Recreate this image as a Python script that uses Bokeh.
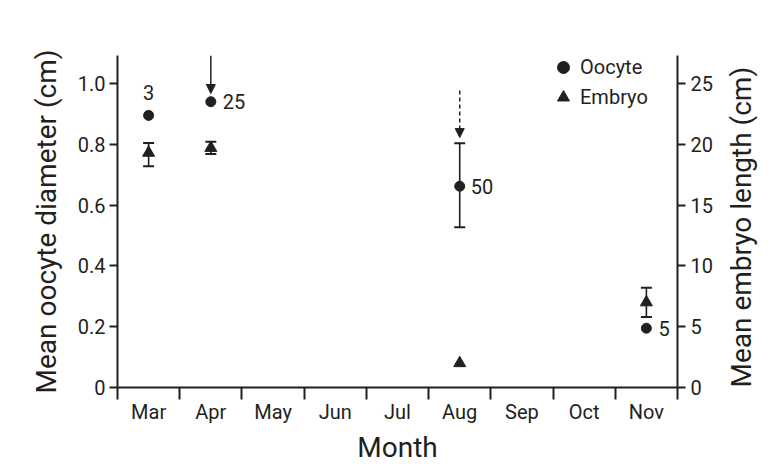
import math
from bokeh.plotting import figure
from bokeh.models import (Range1d, LinearAxis, FixedTicker, Whisker, TeeHead, Arrow,
                          NormalHead, Legend, LegendItem, ColumnDataSource)
from bokeh.core.properties import value
from bokeh.embed import file_html
from bokeh.resources import INLINE

FONT = "Roboto"

months = ["Mar", "Apr", "May", "Jun", "Jul", "Aug", "Sep", "Oct", "Nov"]

oocyte_months = ["Mar", "Apr", "Aug", "Nov"]
oocyte_mean = [0.895, 0.94, 0.662, 0.195]
oocyte_lo = [None, None, 0.527, None]
oocyte_hi = [None, None, 0.803, None]
sample_n = ["3", "25", "50", "5"]

embryo_months = ["Mar", "Apr", "Aug", "Nov"]
embryo_mean = [19.3, 19.7, 2.0, 7.0]
embryo_lo = [18.2, 19.2, None, 5.8]
embryo_hi = [20.1, 20.2, None, 8.2]

left_ticks = [0, 0.2, 0.4, 0.6, 0.8, 1.0]
left_tick_labels = ["0", "0.2", "0.4", "0.6", "0.8", "1.0"]
right_ticks = [0, 5, 10, 15, 20, 25]

arrow_months = ["Apr", "Aug"]
arrow_start = [1.092, 0.977]
arrow_end = [0.967, 0.822]
arrow_dash = ["solid", "4 3"]

x_title = "Month"
left_title = "Mean oocyte diameter (cm)"
right_title = "Mean embryo length (cm)"

def xpos(m):
    return months.index(m) + 0.5

INK = "#231f20"
Y_TOP = 1.092

p = figure(width=783, height=471, output_backend="svg", toolbar_location=None,
           x_range=Range1d(0, len(months)), y_range=Range1d(0, Y_TOP),
           min_border_left=117, min_border_right=106, min_border_top=55, min_border_bottom=84,
           outline_line_color=None)
p.extra_y_ranges = {"right": Range1d(0, Y_TOP * 25)}
p.xgrid.visible = False
p.ygrid.visible = False

# x axis
xa = p.xaxis[0]
xa.ticker = FixedTicker(ticks=[i + 0.5 for i in range(len(months))],
                        minor_ticks=list(range(len(months) + 1)))
xa.major_label_overrides = {i + 0.5: m for i, m in enumerate(months)}
xa.major_tick_out = 0
xa.major_tick_in = 0
xa.minor_tick_out = 12
xa.minor_tick_in = 0
xa.minor_tick_line_width = 2
xa.minor_tick_line_color = INK
xa.axis_label = x_title

# left axis
ya = p.yaxis[0]
ya.ticker = FixedTicker(ticks=left_ticks)
ya.major_label_overrides = {t: s for t, s in zip(left_ticks, left_tick_labels)}
ya.axis_label = left_title
ya.major_tick_out = 8
ya.major_tick_in = 0
ya.minor_tick_out = 0
ya.minor_tick_in = 0

# right axis (title reads bottom-to-top, like the left one)
ra = LinearAxis(y_range_name="right", ticker=FixedTicker(ticks=right_ticks),
                axis_label=right_title)
ra.major_tick_out = 8
ra.major_tick_in = 0
ra.minor_tick_out = 0
ra.minor_tick_in = 0
ra.axis_label_orientation = math.pi / 2
ra.axis_label_align = "start"
p.add_layout(ra, "right")

for ax in (xa, ya, ra):
    ax.axis_line_width = 2
    ax.axis_line_color = INK
    ax.major_tick_line_width = 2
    ax.major_tick_line_color = INK
    ax.major_label_text_font = FONT
    ax.major_label_text_font_size = "20px"
    ax.major_label_text_color = INK
    ax.axis_label_text_font = FONT
    ax.axis_label_text_font_size = "28px"
    ax.axis_label_text_font_style = "normal"
    ax.axis_label_text_color = INK

xa.major_label_standoff = 0
xa.axis_label_standoff = 4
ya.major_label_standoff = 4
ya.axis_label_standoff = 12
ra.major_label_standoff = 5
ra.axis_label_standoff = 26

# data sources
osrc = ColumnDataSource(dict(x=[xpos(m) for m in oocyte_months], y=oocyte_mean, n=sample_n))
ex = [xpos(m) for m in embryo_months]
esrc = ColumnDataSource(dict(x=ex, y=embryo_mean))

oe_idx = [i for i, v in enumerate(oocyte_lo) if v is not None]
oerr = ColumnDataSource(dict(x=[xpos(oocyte_months[i]) for i in oe_idx],
                             lo=[oocyte_lo[i] for i in oe_idx],
                             hi=[oocyte_hi[i] for i in oe_idx]))
ee_idx = [i for i, v in enumerate(embryo_lo) if v is not None]
eerr = ColumnDataSource(dict(x=[xpos(embryo_months[i]) for i in ee_idx],
                             lo=[embryo_lo[i] for i in ee_idx],
                             hi=[embryo_hi[i] for i in ee_idx]))

def tee():
    return TeeHead(size=11, line_width=2, line_color=INK)

w1 = Whisker(base="x", lower="lo", upper="hi", source=oerr, dimension="height",
             line_width=1.6, line_color=INK, upper_head=tee(), lower_head=tee())
p.add_layout(w1)
w2 = Whisker(base="x", lower="lo", upper="hi", source=eerr, dimension="height",
             y_range_name="right", line_width=1.6, line_color=INK,
             upper_head=tee(), lower_head=tee())
p.add_layout(w2)

p.scatter("x", "y", source=osrc, marker="circle", size=10,
          fill_color=INK, line_color=INK)
p.scatter("x", "y", source=esrc, marker="triangle", size=12,
          fill_color=INK, line_color=INK, y_range_name="right")

# legend-only renderers (a single NaN point that is never drawn)
lg_o = p.scatter(x=[float("nan")], y=[float("nan")], marker="circle", size=12,
                 fill_color=INK, line_color=INK)
lg_e = p.scatter(x=[float("nan")], y=[float("nan")], marker="triangle", size=15,
                 fill_color=INK, line_color=INK)

# sample size labels
lab_dx = [0, 12, 11, 12]
lab_dy = [-23, 0, 0, 0]
lab_align = ["center", "left", "left", "left"]
lsrc = ColumnDataSource(dict(x=[xpos(m) for m in oocyte_months], y=oocyte_mean, n=sample_n,
                             dx=lab_dx, dy=lab_dy, al=lab_align))
p.text("x", "y", text="n", source=lsrc, x_offset="dx", y_offset="dy",
       text_align="al", text_baseline="middle", text_font=value(FONT),
       text_font_size="20px", text_color=INK)

# arrows
for m, y0, y1, d in zip(arrow_months, arrow_start, arrow_end, arrow_dash):
    p.add_layout(Arrow(x_start=xpos(m), y_start=y0, x_end=xpos(m), y_end=y1,
                       line_width=1.5, line_color=INK, line_dash=d,
                       end=NormalHead(size=9, fill_color=INK, line_color=INK, line_width=1)))

legend = Legend(items=[LegendItem(label="Oocyte", renderers=[lg_o]),
                       LegendItem(label="Embryo", renderers=[lg_e])],
                location=(430, 275), background_fill_alpha=0, border_line_alpha=0,
                label_text_font=FONT, label_text_font_size="20px", label_text_color=INK,
                glyph_width=32, glyph_height=30, label_height=30, spacing=0,
                padding=0, margin=0, label_standoff=1)
p.add_layout(legend)

open("out.html", "w").write(file_html(p, INLINE))
